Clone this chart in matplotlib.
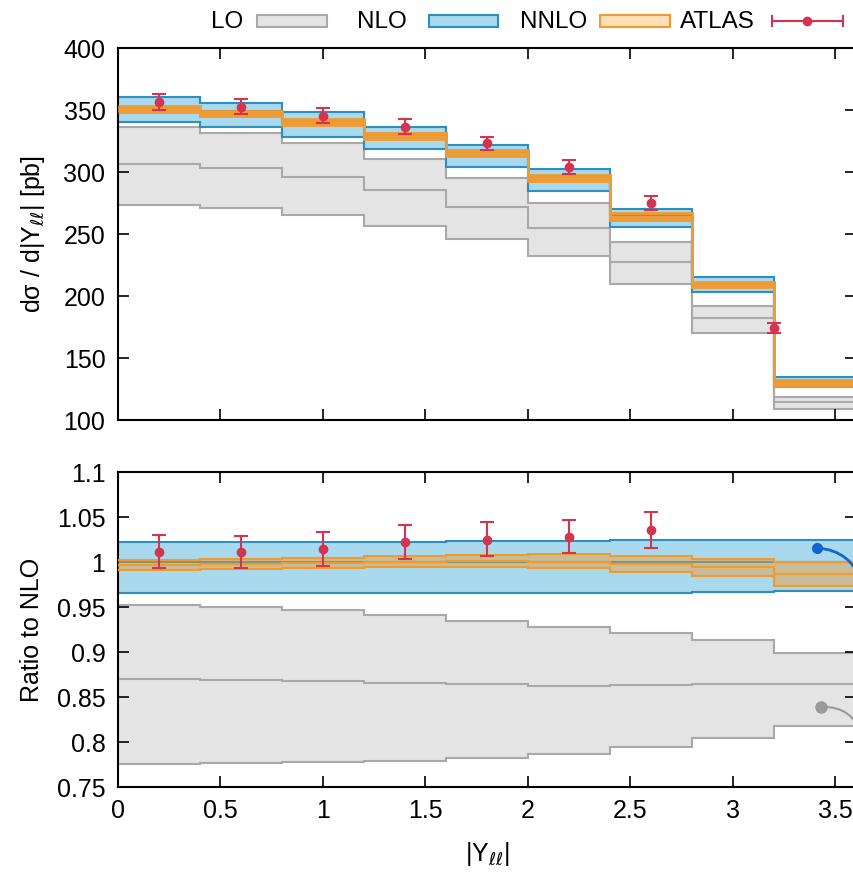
import numpy as np
import matplotlib
matplotlib.use("Agg")
import matplotlib.pyplot as plt
from matplotlib.patches import Rectangle
from matplotlib.lines import Line2D
from matplotlib.ticker import MultipleLocator, FuncFormatter

plt.rcParams['font.family'] = ['Liberation Sans', 'DejaVu Sans']
plt.rcParams['mathtext.fontset'] = 'dejavusans'

# bins in |Y_ll|
edges = [0.0, 0.4, 0.8, 1.2, 1.6, 2.0, 2.4, 2.8, 3.2, 3.6]

# top panel: d sigma / d|Y| [pb]
lo_hi = [336.0, 331.7, 323.1, 310.2, 294.9, 274.8, 243.8, 192.2, 118.8]
lo_c = [306.5, 303.0, 295.7, 285.5, 272.0, 254.6, 227.7, 182.0, 114.3]
lo_lo = [273.4, 271.2, 265.3, 256.5, 245.7, 232.3, 209.7, 169.9, 108.6]
nlo_hi = [360.2, 355.9, 348.1, 336.5, 321.5, 302.2, 270.2, 215.6, 135.0]
nlo_c = [352.7, 349.0, 340.6, 329.3, 315.2, 296.0, 265.2, 210.5, 131.2]
nlo_lo = [340.0, 336.5, 328.5, 318.3, 303.8, 284.9, 255.4, 203.5, 126.4]
nnlo_hi = [353.5, 349.4, 342.5, 331.2, 317.7, 297.6, 266.7, 211.5, 132.3]
nnlo_c = [351.0, 347.3, 340.2, 328.8, 315.3, 295.3, 264.0, 209.3, 130.0]
nnlo_lo = [348.6, 345.2, 337.9, 326.4, 312.9, 293.0, 261.3, 207.0, 127.7]

atlas_x = [0.2, 0.6, 1.0, 1.4, 1.8, 2.2, 2.6, 3.2]
atlas_y = [356.7, 352.7, 345.4, 336.5, 323.1, 304.3, 274.8, 174.0]
atlas_err = [6.3, 6.3, 6.2, 6.0, 5.5, 5.7, 5.6, 4.0]

# bottom panel: ratio to NLO
r_lo_hi = [0.952, 0.950, 0.947, 0.941, 0.934, 0.928, 0.921, 0.913, 0.899]
r_lo_c = [0.870, 0.869, 0.868, 0.866, 0.864, 0.862, 0.863, 0.864, 0.865]
r_lo_lo = [0.776, 0.777, 0.778, 0.779, 0.782, 0.787, 0.795, 0.805, 0.818]
r_nlo_hi = [1.022, 1.022, 1.022, 1.022, 1.023, 1.023, 1.024, 1.024, 1.024]
r_nlo_c = [1.0, 1.0, 1.0, 1.0, 1.0, 1.0, 1.0, 1.0, 1.0]
r_nlo_lo = [0.966, 0.966, 0.966, 0.966, 0.966, 0.966, 0.966, 0.967, 0.968]
r_nnlo_hi = [1.002, 1.003, 1.005, 1.007, 1.008, 1.009, 1.007, 1.003, 1.000]
r_nnlo_c = [0.997, 0.998, 0.999, 1.000, 1.001, 1.000, 0.998, 0.994, 0.987]
r_nnlo_lo = [0.991, 0.992, 0.993, 0.994, 0.995, 0.993, 0.989, 0.984, 0.973]

r_atlas_x = [0.2, 0.6, 1.0, 1.4, 1.8, 2.2, 2.6]
r_atlas_y = [1.011, 1.011, 1.014, 1.022, 1.025, 1.028, 1.036]
r_atlas_hi = [1.030, 1.029, 1.033, 1.041, 1.044, 1.047, 1.056]
r_atlas_lo = [0.993, 0.993, 0.996, 1.003, 1.007, 1.010, 1.016]

legend_labels = ['LO', 'NLO', 'NNLO', 'ATLAS']

gray_fill, gray_edge = '#e4e4e4', '#a9a9a9'
blue_fill, blue_edge = '#a9d9ec', '#2b8fbf'
orange_edge = '#f19a2f'
orange_fill = (0.95, 0.60, 0.18, 0.45)
red = '#d4344f'
FS = 18

W, H = 854, 872
fig = plt.figure(figsize=(W / 100, H / 100), dpi=100)


def rect(l, t, r, b):
    return [l / W, 1 - b / H, (r - l) / W, (b - t) / H]


ax1 = fig.add_axes(rect(118, 48, 856, 420))
ax2 = fig.add_axes(rect(118, 472, 856, 787))


def band(ax, lo, c, hi, fill, edge, lw=1.5, z=1):
    ax.stairs(hi, edges, baseline=lo, fill=True, color=fill, lw=0, zorder=z)
    for v in (lo, c, hi):
        ax.stairs(v, edges, baseline=None, color=edge, lw=lw, zorder=z + 0.5)


band(ax1, lo_lo, lo_c, lo_hi, gray_fill, gray_edge, z=1)
band(ax1, nlo_lo, nlo_c, nlo_hi, blue_fill, blue_edge, z=2)
band(ax1, nnlo_lo, nnlo_c, nnlo_hi, orange_fill, orange_edge, lw=2, z=3)
ax1.errorbar(atlas_x, atlas_y, yerr=atlas_err, fmt='o', color=red, ms=6,
             elinewidth=1.5, capsize=5, capthick=1.5, zorder=5)

band(ax2, r_lo_lo, r_lo_c, r_lo_hi, gray_fill, gray_edge, z=1)
band(ax2, r_nlo_lo, r_nlo_c, r_nlo_hi, blue_fill, blue_edge, z=2)
band(ax2, r_nnlo_lo, r_nnlo_c, r_nnlo_hi, orange_fill, orange_edge, lw=1.5, z=3)
yerr = [np.array(r_atlas_y) - np.array(r_atlas_lo), np.array(r_atlas_hi) - np.array(r_atlas_y)]
ax2.errorbar(r_atlas_x, r_atlas_y, yerr=yerr, fmt='o', color=red, ms=6,
             elinewidth=1.5, capsize=5, capthick=1.5, zorder=5)

# cut-off pointer curves at the right edge
ax2.plot([3.41], [1.0156], 'o', color='#1565d0', ms=7, zorder=6, clip_on=False)
ax2.annotate('', xy=(3.63, 0.975), xytext=(3.41, 1.0156), annotation_clip=False,
             arrowprops=dict(arrowstyle='-', color='#1565d0', lw=2, shrinkA=0,
                             shrinkB=0, connectionstyle='arc3,rad=-0.35'), zorder=6)
ax2.plot([3.43], [0.839], 'o', color='#9a9a9a', ms=8, zorder=6, clip_on=False)
ax2.annotate('', xy=(3.63, 0.805), xytext=(3.43, 0.839), annotation_clip=False,
             arrowprops=dict(arrowstyle='-', color='#9a9a9a', lw=1.5, shrinkA=0,
                             shrinkB=0, connectionstyle='arc3,rad=-0.4'), zorder=6)

fmt = FuncFormatter(lambda v, p: '%g' % round(v, 3))
for ax in (ax1, ax2):
    ax.set_xlim(0, 3.6)
    ax.xaxis.set_major_locator(MultipleLocator(0.5))
    ax.xaxis.set_major_formatter(fmt)
    ax.yaxis.set_major_formatter(fmt)
    ax.tick_params(direction='in', length=8, width=1.2, top=True, right=True,
                   labelsize=FS, pad=9)
    for s in ax.spines.values():
        s.set_linewidth(1.5)

ax1.set_ylim(100, 400)
ax1.yaxis.set_major_locator(MultipleLocator(50))
ax1.tick_params(labelbottom=False)
ax1.set_ylabel('dσ / d|Y$_{\\ell\\ell}$| [pb]', fontsize=FS, labelpad=12)

ax2.set_ylim(0.75, 1.1)
ax2.yaxis.set_major_locator(MultipleLocator(0.05))
ax2.set_ylabel('Ratio to NLO', fontsize=FS, labelpad=9)
ax2.set_xlabel('|Y$_{\\ell\\ell}$|', fontsize=FS, labelpad=12)

# legend, gnuplot style (label, then sample), laid out in pixels
def fx(px):
    return px / W


def fy(py):
    return 1 - py / H


text_right = [243, 407, 587, 755]
sample_x = [(257, 327), (429, 498), (600, 670), (772, 843)]
sample_style = [(gray_fill, gray_edge), (blue_fill, blue_edge), ('#fde0b8', orange_edge)]
ly = 21
for i, lab in enumerate(legend_labels):
    fig.text(fx(text_right[i]), fy(ly + 1), lab, ha='right', va='center', fontsize=17.5)
    x0, x1 = sample_x[i]
    if i < 3:
        fc, ec = sample_style[i]
        fig.add_artist(Rectangle((fx(x0), fy(ly + 6)), fx(x1 - x0), (12 / H),
                                 transform=fig.transFigure, facecolor=fc,
                                 edgecolor=ec, lw=1.5))
    else:
        fig.add_artist(Line2D([fx(x0), fx(x1)], [fy(ly), fy(ly)], color=red, lw=1.5,
                              transform=fig.transFigure))
        for xc in (x0, x1):
            fig.add_artist(Line2D([fx(xc), fx(xc)], [fy(ly - 5), fy(ly + 5)], color=red,
                                  lw=1.5, transform=fig.transFigure))
        fig.add_artist(Line2D([fx((x0 + x1) / 2)], [fy(ly)], marker='o', ms=6,
                              color=red, transform=fig.transFigure))

fig.savefig('out.png', dpi=100)
